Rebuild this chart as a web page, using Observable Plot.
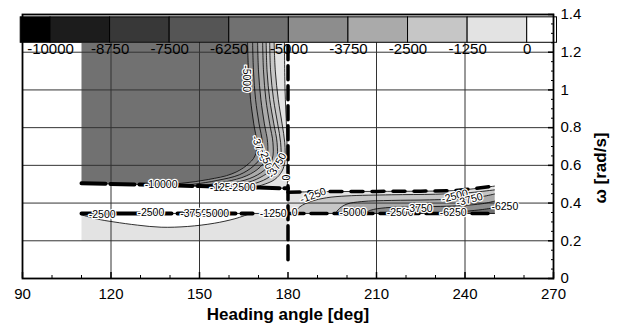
<!DOCTYPE html>
<html><head><meta charset="utf-8">
<script src="https://cdn.jsdelivr.net/npm/d3@7"></script>
<script src="https://cdn.jsdelivr.net/npm/@observablehq/plot@0.6"></script>
<style>html,body{margin:0;padding:0;background:#fff;}</style>
</head><body><div id="chart"></div>
<script>
// ---- color levels (flood contour legend) ----
const thresholds = [-10000,-8750,-7500,-6250,-5000,-3750,-2500,-1250,0];
const grays = ["#000000","#1c1c1c","#383838","#555555","#717171","#8d8d8d","#aaaaaa","#c6c6c6","#e3e3e3","#ffffff"];
const legendLabels = ["-10000","-8750","-7500","-6250","-5000","-3750","-2500","-1250","0"];

// ---- axes ----
const xTicks = [90,120,150,180,210,240,270];
const xMinor = [100,110,130,140,160,170,190,200,220,230,250,260];
const yTicks = [0,0.2,0.4,0.6,0.8,1,1.2,1.4];
const yMinor = [0.05,0.1,0.15,0.25,0.3,0.35,0.45,0.5,0.55,0.65,0.7,0.75,0.85,0.9,0.95,1.05,1.1,1.15,1.25,1.3,1.35];
const gridXs = [120,150,210,240];
const gridYs = [0.2,0.4,0.6,0.8,1,1.2];

// ---- region A (upper left) ----
const regionA = [[110,1.25],[180,1.25],[180,0.478],[170,0.482],[150,0.49],[130,0.498],[110,0.505]];
const edgeA = [[110,0.505],[130,0.498],[150,0.49],[170,0.482],[180,0.478]];
const cA1 = [[166.3,1.25],[166.6,1.1],[167.3,0.95],[168.4,0.82],[169.4,0.72],[168.8,0.65],[166,0.6],[161,0.555],[153,0.525],[144,0.505],[135,0.496]];
const cA2 = [[168,1.25],[168.3,1.1],[169,0.95],[170.2,0.82],[171.3,0.72],[170.8,0.645],[168.2,0.595],[163.5,0.55],[156,0.52],[148,0.5],[142,0.493]];
const cA3 = [[169.7,1.25],[170,1.1],[170.8,0.95],[172,0.82],[173.1,0.72],[172.8,0.64],[170.5,0.59],[166,0.545],[159,0.513],[153,0.497],[148,0.491]];
const cA4 = [[171.4,1.25],[171.7,1.1],[172.5,0.95],[173.8,0.82],[174.9,0.72],[174.7,0.635],[172.7,0.585],[168.5,0.54],[162,0.508],[154,0.488]];
const cA5 = [[172.6,1.25],[172.9,1.1],[173.8,0.95],[175.2,0.82],[176.3,0.72],[176.2,0.63],[174.5,0.58],[170.5,0.535],[165,0.503],[159,0.486]];
const cA6 = [[173.8,1.25],[174.1,1.1],[175.1,0.95],[176.5,0.82],[177.5,0.72],[177.5,0.625],[176.2,0.575],[172.8,0.53],[168,0.5],[164,0.484]];
const cA7 = [[175.3,1.25],[175.7,1.1],[176.7,0.95],[178,0.82],[178.9,0.72],[178.9,0.62],[178,0.57],[175.5,0.525],[171.5,0.497],[168,0.483]];
const cA8 = [[178.8,1.25],[179,1.0],[179.5,0.8],[179.8,0.6],[179.8,0.479]];
const closeA = [[170,0.482],[180,0.478],[180,1.25]];

// ---- region B (lower left) ----
const edgeB = [[110,0.345],[180,0.345]];
const bandB = [[110,0.345],[168,0.345]];
const curveB = [[110,0.338],[115,0.316],[121,0.3],[129,0.283],[137,0.272],[146,0.276],[155,0.293],[162,0.317],[167,0.343]];
const closeB = [[180,0.345],[180,0.2],[110,0.2]];

// ---- region C (right) ----
const topC = [[180,0.458],[195,0.461],[210,0.462],[225,0.463],[236,0.466],[243,0.476],[250,0.49]];
const bottomC = [[180,0.345],[250,0.345]];
const c1 = [[182,0.345],[184,0.38],[188,0.41],[193,0.428],[200,0.438],[215,0.444],[230,0.447],[242,0.456],[250,0.47]];
const c2 = [[196,0.345],[197.5,0.372],[200,0.395],[205,0.408],[215,0.414],[228,0.417],[240,0.424],[246,0.435],[250,0.448]];
const c3 = [[206,0.345],[208,0.362],[213,0.375],[225,0.38],[238,0.386],[246,0.397],[250,0.41]];
const c4 = [[232,0.345],[240,0.356],[246,0.366],[250,0.375]];

// ---- symmetry line ----
const midLine = [[180,0.1],[180,1.25]];

// ---- contour labels: text, x, y, rotate ----
const contourLabels = [
  ["-10000",137,0.5,0],["-1250",158,0.48,0],["-2500",164.5,0.48,0],["0",179.6,0.535,-90],
  ["-5000",166,1.06,90],["-3750",170.3,0.69,70],["-2500",172.8,0.62,70],["-3750",176.3,0.6,-60],
  ["-2500",117,0.337,0],["-2500",133.5,0.347,0],["-3750",148,0.342,0],["-5000",155.5,0.342,0],["-1250",175,0.345,0],
  ["0",182.3,0.347,0],["-1250",188.5,0.44,-20],["-5000",202,0.347,0],["-2500",218,0.347,0],["-3750",224.5,0.37,0],
  ["-6250",236,0.347,0],["-6250",253.5,0.38,0],["-2500",236.5,0.437,-15],["-3750",241.5,0.418,-15]
];

// ---- build tables ----
const polys = [];
function addPoly(id, v, pts){ pts.forEach(([x,y]) => polys.push({id, v, x, y})); }
addPoly("A", -5600, regionA);
addPoly("A1", -4400, [...cA1, ...closeA]);
addPoly("A3", -3100, [...cA3, ...closeA]);
addPoly("A5", -1900, [...cA5, ...closeA]);
addPoly("A7", -600, [...cA7, ...closeA]);
addPoly("A8", 300, [...cA8, [180,0.478],[180,1.25]]);
addPoly("B", -600, [...curveB, ...closeB]);
addPoly("C", -600, [...topC, [250,0.345],[180,0.345]]);
addPoly("C1", -1900, [...c1, [250,0.345]]);
addPoly("C2", -3100, [...c2, [250,0.345]]);
addPoly("C3", -4400, [...c3, [250,0.345]]);
addPoly("C4", -5600, [...c4, [250,0.345]]);

const lines = [];
function addLine(id, pts){ pts.forEach(([x,y]) => lines.push({id, x, y})); }
[cA1,cA2,cA3,cA4,cA5,cA6,cA7,cA8,curveB,c1,c2,c3,c4].forEach((p,i)=>addLine("L"+i, p));
addLine("eA", edgeA); addLine("eB", edgeB); addLine("tC", topC); addLine("bC", bottomC);

const rows = pts => pts.map(([x,y]) => ({x,y}));

// legend layout: threshold value -> x position along the top bar
const legendX = v => 99.49 + (v + 10000) / 1250 * 20.2;
const legendLo = [-10625, ...thresholds];
const legendHi = [...thresholds, 625];
const legendBoxes = legendLo.map((lo,i) => ({lo, hi: legendHi[i], v: (lo + legendHi[i]) / 2}));

const plot = Plot.plot({
  width: 617, height: 332,
  marginLeft: 22, marginRight: 64, marginTop: 14, marginBottom: 54,
  x: {domain: [90,270]},
  y: {domain: [0,1.4]},
  color: {type: "threshold", domain: thresholds, range: grays},
  style: {fontFamily: "'Liberation Sans', Arial, sans-serif", fontSize: "15px", background: "white", overflow: "visible"},
  marks: [
    Plot.line(polys, {x: "x", y: "y", z: "id", fill: "v", stroke: null, curve: "linear"}),
    Plot.gridX(gridXs, {y1: 0, y2: 1.25, stroke: "#333", strokeOpacity: 1, strokeWidth: 1}),
    Plot.gridY(gridYs, {stroke: "#333", strokeOpacity: 1, strokeWidth: 1}),
    Plot.line(lines, {x: "x", y: "y", z: "id", stroke: "#000", strokeWidth: 0.8, curve: "catmull-rom"}),
    Plot.line(rows(edgeA), {x: "x", y: "y", stroke: "#000", strokeWidth: 4, strokeDasharray: "24,5"}),
    Plot.line(rows(bandB), {x: "x", y: "y", stroke: "#000", strokeWidth: 4, strokeDasharray: "26,6"}),
    Plot.line(rows(topC), {x: "x", y: "y", stroke: "#000", strokeWidth: 3.5, strokeDasharray: "12,9"}),
    Plot.line(rows(bottomC), {x: "x", y: "y", stroke: "#000", strokeWidth: 3.5, strokeDasharray: "16,7"}),
    Plot.line(rows(midLine), {x: "x", y: "y", stroke: "#000", strokeWidth: 3.5, strokeDasharray: "14,6"}),
    Plot.text(contourLabels, {x: d => d[1], y: d => d[2], text: d => d[0], rotate: d => d[3], fontSize: 10.5, fill: "#000", stroke: "white", strokeWidth: 2.5, paintOrder: "stroke"}),
    // legend bar
    Plot.rect(legendBoxes, {x1: d => legendX(d.lo), x2: d => legendX(d.hi), y1: 1.25, y2: 1.385, fill: "v", stroke: "#000", strokeWidth: 1}),
    Plot.text(thresholds, {x: d => legendX(d), y: 1.214, text: (d,i) => legendLabels[i], fontSize: 15, fill: "#000"}),
    // axes
    Plot.frame({stroke: "#000", strokeWidth: 1.8}),
    Plot.axisX(xTicks, {anchor: "bottom", tickSize: -6, tickPadding: 16, fontSize: 15, label: null, strokeWidth: 1.5}),
    Plot.axisX(xMinor, {anchor: "bottom", tickSize: -3, tickFormat: () => "", label: null}),
    Plot.axisY(yTicks, {anchor: "right", tickSize: -6, tickPadding: 13, tickFormat: d3.format("~g"), fontSize: 15, label: null, strokeWidth: 1.5}),
    Plot.axisY(yMinor, {anchor: "right", tickSize: -3, tickFormat: () => "", label: null}),
    Plot.text(["Heading angle [deg]"], {frameAnchor: "bottom", dy: 41, fontSize: 17, fontWeight: "bold"}),
    Plot.text(["ω [rad/s]"], {frameAnchor: "right", dx: 47, dy: -14, rotate: -90, fontSize: 17, fontWeight: "bold"})
  ]
});
document.getElementById("chart").appendChild(plot);
</script>
</body></html>
